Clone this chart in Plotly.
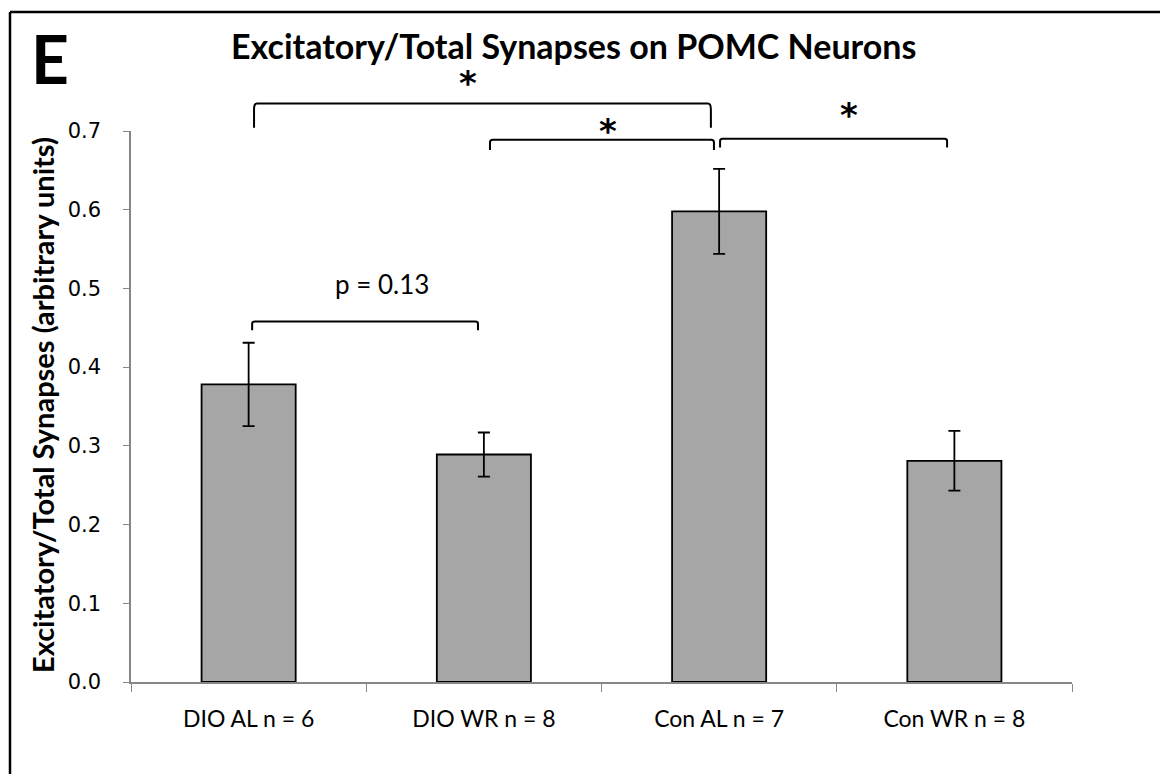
import plotly.graph_objects as go

# ---- data ----
categories = ["DIO AL n = 6", "DIO WR n = 8", "Con AL n = 7", "Con WR n = 8"]
means = [0.378, 0.289, 0.598, 0.281]
sems = [0.053, 0.028, 0.054, 0.038]
y_tickvals = [0.0, 0.1, 0.2, 0.3, 0.4, 0.5, 0.6, 0.7]
y_ticktext = ["0.0", "0.1", "0.2", "0.3", "0.4", "0.5", "0.6", "0.7"]
Y_RANGE = [0.0, 0.7]

# significance brackets: left / right position (category index), bar height,
# tip end height (data units), label, label position (index, value)
bracket_left = [0.015, 0.023, 1.026, 2.004]
bracket_right = [0.975, 1.965, 1.978, 2.969]
bracket_top = [0.458, 0.735, 0.689, 0.690]
bracket_tip = [0.447, 0.704, 0.676, 0.679]
bracket_label = ["p = 0.13", "*", "*", "*"]
label_x = [0.566, 0.932, 1.528, 2.552]
label_y = [0.506, 0.764, 0.702, 0.723]

# ---- page geometry ----
W, H = 1160, 774
ML, MR, MT, MB = 131, 88, 131, 92
PW, PH = W - ML - MR, H - MT - MB
AXIS_GRAY = "#868686"
TEXT_FONT = "Lato"


def px_x(p):
    return (p - ML) / PW


def px_y(p):
    return (H - MB - p) / PH


def val_to_paper(v):
    return (v - Y_RANGE[0]) / (Y_RANGE[1] - Y_RANGE[0])


fig = go.Figure()
fig.add_trace(go.Bar(
    x=categories,
    y=means,
    marker=dict(color="#A6A6A6", line=dict(color="black", width=1.8)),
    error_y=dict(type="data", array=sems, color="black", thickness=1.8, width=6),
    showlegend=False,
))

shapes = []
annotations = []

for x0, x1, yt, yb, lab, lx, ly in zip(bracket_left, bracket_right, bracket_top,
                                       bracket_tip, bracket_label, label_x, label_y):
    pt, pb = val_to_paper(yt), val_to_paper(yb)
    r = 0.012
    rv = (pt - pb) * 0.25
    path = (f"M {x0},{pb} L {x0},{pt - rv} Q {x0},{pt} {x0 + r},{pt} "
            f"L {x1 - r},{pt} Q {x1},{pt} {x1},{pt - rv} L {x1},{pb}")
    shapes.append(dict(type="path", path=path, xref="x", yref="paper",
                       line=dict(color="black", width=2)))
    if lab == "*":
        annotations.append(dict(x=lx, y=val_to_paper(ly), xref="x", yref="paper",
                                text="<b>*</b>", showarrow=False,
                                xanchor="center", yanchor="middle", yshift=-2,
                                font=dict(family="DejaVu Sans", size=34, color="black")))
    else:
        annotations.append(dict(x=lx, y=val_to_paper(ly), xref="x", yref="paper",
                                text=lab, showarrow=False,
                                xanchor="center", yanchor="middle",
                                font=dict(family=TEXT_FONT, size=26, color="black")))

# title, panel letter and y-axis title
annotations.append(dict(x=px_x(573), y=px_y(45), xref="paper", yref="paper",
                        text="<b>Excitatory/Total Synapses on POMC Neurons</b>",
                        showarrow=False, xanchor="center", yanchor="middle",
                        font=dict(family=TEXT_FONT, size=34, color="black")))
annotations.append(dict(x=px_x(50), y=px_y(58), xref="paper", yref="paper",
                        text="<b>E</b>", showarrow=False, xanchor="center", yanchor="middle",
                        font=dict(family=TEXT_FONT, size=66, color="black")))
annotations.append(dict(x=px_x(42), y=px_y(405), xref="paper", yref="paper",
                        text="<b>Excitatory/Total Synapses (arbitrary units)</b>",
                        textangle=-90, showarrow=False, xanchor="center", yanchor="middle",
                        font=dict(family=TEXT_FONT, size=29, color="black")))

# frame around the panel (left and top edges)
shapes.append(dict(type="line", xref="paper", yref="paper",
                   x0=px_x(10), x1=px_x(10), y0=px_y(12), y1=px_y(H + 5),
                   line=dict(color="black", width=2.5)))
shapes.append(dict(type="line", xref="paper", yref="paper",
                   x0=px_x(10), x1=px_x(W + 5), y0=px_y(12), y1=px_y(12),
                   line=dict(color="black", width=2.5)))

fig.update_layout(
    width=W, height=H,
    margin=dict(l=ML, r=MR, t=MT, b=MB),
    paper_bgcolor="white", plot_bgcolor="white",
    bargap=0.6,
    shapes=shapes,
    annotations=annotations,
    xaxis=dict(
        type="category", range=[-0.5, 3.5], tickson="boundaries",
        ticks="outside", ticklen=8, tickcolor=AXIS_GRAY, tickwidth=1.3,
        showline=True, linecolor=AXIS_GRAY, linewidth=1.5,
        showgrid=False, zeroline=False,
        tickfont=dict(family=TEXT_FONT, size=23, color="black"),
        ticklabelstandoff=16,
    ),
    yaxis=dict(
        range=Y_RANGE, tickmode="array", tickvals=y_tickvals, ticktext=y_ticktext,
        ticks="outside", ticklen=6, tickcolor=AXIS_GRAY, tickwidth=1.3,
        showline=True, linecolor=AXIS_GRAY, linewidth=1.5,
        showgrid=False, zeroline=False,
        tickfont=dict(family="DejaVu Sans", size=21, color="black"),
        ticklabelstandoff=18,
    ),
)

fig.write_html("out.html")
